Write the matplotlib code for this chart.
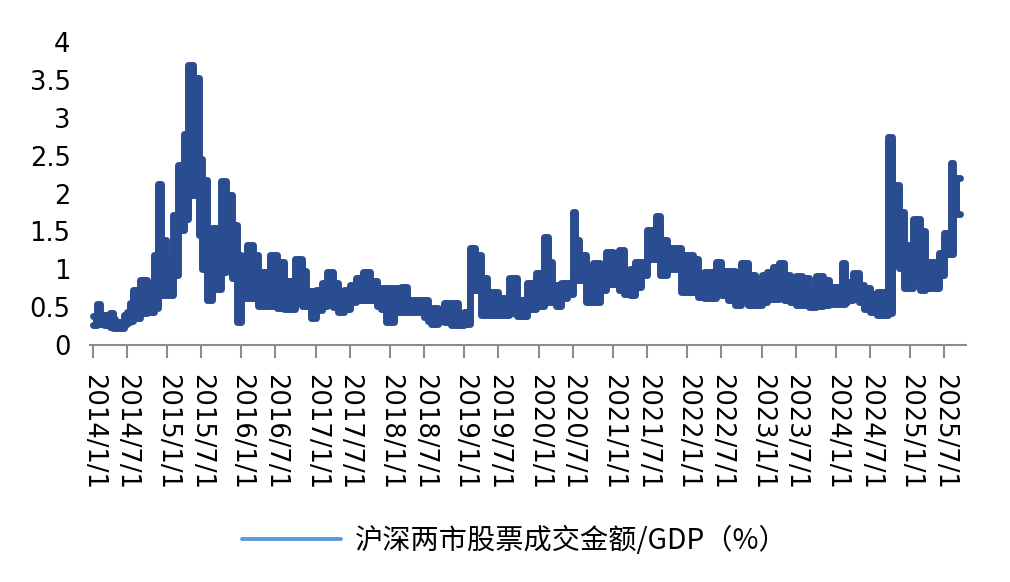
import matplotlib
matplotlib.use("Agg")
import matplotlib.pyplot as plt
import matplotlib.dates as mdates
from matplotlib.lines import Line2D
from matplotlib.font_manager import FontProperties
import numpy as np

plt.rcParams["font.family"] = ["DejaVu Sans"]

# 沪深两市股票成交金额/GDP（%）: 每段起始日期及该段内的低点/高点
dates = [
    "2014-01-01", "2014-01-25", "2014-02-08", "2014-03-01", "2014-04-01", "2014-04-20",
    "2014-05-01", "2014-06-01", "2014-06-20", "2014-07-01", "2014-07-15", "2014-08-01",
    "2014-09-01", "2014-10-01", "2014-11-01", "2014-11-20", "2014-12-05", "2014-12-25",
    "2015-02-01", "2015-03-01", "2015-04-01", "2015-04-22", "2015-05-20", "2015-06-20",
    "2015-07-08", "2015-07-28", "2015-08-22", "2015-10-01", "2015-10-22", "2015-11-18",
    "2015-12-10", "2016-01-01", "2016-02-01", "2016-03-01", "2016-04-01", "2016-06-01",
    "2016-07-10", "2016-08-10", "2016-10-01", "2016-11-01", "2016-11-20", "2016-12-10",
    "2017-01-01", "2017-02-01", "2017-03-01", "2017-04-01", "2017-05-01", "2017-06-01",
    "2017-07-01", "2017-08-01", "2017-09-01", "2017-10-01", "2017-11-01", "2017-11-20",
    "2017-12-15", "2018-01-20", "2018-03-01", "2018-04-01", "2018-07-01", "2018-07-20",
    "2018-08-01", "2018-09-01", "2018-10-01", "2018-11-01", "2018-12-01", "2019-01-01",
    "2019-02-01", "2019-03-01", "2019-04-01", "2019-05-01", "2019-07-01", "2019-08-20",
    "2019-09-25", "2019-11-10", "2019-12-20", "2020-02-01", "2020-02-20", "2020-03-10",
    "2020-04-01", "2020-05-01", "2020-06-01", "2020-07-01", "2020-07-10", "2020-08-01",
    "2020-09-01", "2020-10-01", "2020-11-01", "2020-12-01", "2021-01-01", "2021-02-01",
    "2021-03-01", "2021-04-01", "2021-05-01", "2021-06-01", "2021-07-01", "2021-08-10",
    "2021-08-28", "2021-10-01", "2021-12-01", "2022-02-01", "2022-03-01", "2022-04-01",
    "2022-06-01", "2022-07-01", "2022-08-01", "2022-09-01", "2022-10-01", "2022-11-01",
    "2022-12-01", "2023-01-01", "2023-02-01", "2023-03-01", "2023-04-01", "2023-05-01",
    "2023-06-01", "2023-07-01", "2023-08-01", "2023-09-01", "2023-10-01", "2023-11-01",
    "2023-12-01", "2024-02-01", "2024-02-20", "2024-03-01", "2024-04-01", "2024-05-01",
    "2024-06-01", "2024-07-01", "2024-08-01", "2024-09-22", "2024-10-10", "2024-11-10",
    "2024-12-01", "2025-01-15", "2025-02-20", "2025-03-20", "2025-06-01", "2025-07-01",
    "2025-08-01", "2025-08-12",
]
low = [
    0.26, 0.29, 0.28, 0.27, 0.24, 0.22,
    0.22, 0.23, 0.28, 0.30, 0.32, 0.35,
    0.42, 0.44, 0.49, 0.94, 0.66, 0.66,
    0.92, 1.52, 1.67, 1.98, 1.98, 1.45,
    1.01, 0.59, 0.74, 0.97, 1.14, 0.88,
    0.30, 0.62, 0.62, 0.62, 0.51, 0.51,
    0.49, 0.48, 0.57, 0.52, 0.52, 0.35,
    0.46, 0.52, 0.57, 0.50, 0.44, 0.47,
    0.57, 0.60, 0.59, 0.59, 0.51, 0.47,
    0.31, 0.44, 0.44, 0.44, 0.37, 0.32,
    0.28, 0.32, 0.30, 0.26, 0.26, 0.28,
    0.72, 0.72, 0.39, 0.39, 0.39, 0.42,
    0.38, 0.47, 0.52, 0.57, 0.57, 0.57,
    0.52, 0.62, 0.68, 0.86, 0.86, 0.86,
    0.57, 0.57, 0.72, 0.81, 0.81, 0.72,
    0.68, 0.66, 0.77, 0.92, 1.14, 1.14,
    0.92, 1.01, 0.70, 0.70, 0.64, 0.62,
    0.74, 0.66, 0.60, 0.53, 0.60, 0.53,
    0.53, 0.57, 0.61, 0.61, 0.62, 0.59,
    0.57, 0.53, 0.53, 0.50, 0.52, 0.53,
    0.54, 0.54, 0.57, 0.59, 0.62, 0.57,
    0.47, 0.44, 0.39, 0.42, 1.07, 1.02,
    0.75, 0.88, 0.73, 0.75, 0.92, 1.20,
    1.20, 1.73,
]
high = [
    0.38, 0.54, 0.40, 0.40, 0.42, 0.34,
    0.31, 0.31, 0.40, 0.44, 0.55, 0.73,
    0.86, 0.80, 1.19, 2.13, 1.39, 1.14,
    1.72, 2.38, 2.78, 3.70, 3.52, 2.46,
    2.18, 1.43, 1.54, 2.16, 1.98, 1.59,
    1.19, 0.98, 1.32, 1.19, 0.97, 1.19,
    1.10, 0.84, 1.13, 0.98, 0.71, 0.71,
    0.73, 0.82, 0.97, 0.82, 0.68, 0.73,
    0.79, 0.88, 0.97, 0.84, 0.70, 0.75,
    0.75, 0.75, 0.77, 0.60, 0.60, 0.49,
    0.49, 0.44, 0.55, 0.55, 0.40, 0.43,
    1.28, 1.19, 0.88, 0.70, 0.62, 0.88,
    0.60, 0.82, 0.95, 1.43, 1.10, 0.79,
    0.79, 0.82, 0.82, 1.76, 1.39, 1.19,
    1.03, 1.08, 0.88, 1.23, 1.03, 1.25,
    0.86, 1.01, 1.10, 1.10, 1.52, 1.70,
    1.39, 1.28, 1.19, 1.14, 0.90, 0.97,
    1.10, 0.98, 0.98, 0.80, 1.08, 0.93,
    0.75, 0.93, 0.97, 1.03, 1.08, 0.93,
    0.88, 0.91, 0.88, 0.71, 0.91, 0.86,
    0.77, 1.08, 0.83, 0.83, 0.95, 0.79,
    0.75, 0.68, 0.70, 2.75, 2.11, 1.76,
    1.32, 1.67, 1.50, 1.10, 1.21, 1.48,
    2.40, 2.20,
]
end_date = "2025-09-10"

# 横轴按交易日排列：上半年约112个交易日，下半年约134个
tick_dates = [f"{y}-{m:02d}-01" for y in range(2014, 2026) for m in (1, 7)]
tick_labels = [f"{y}/{m}/1" for y in range(2014, 2026) for m in (1, 7)]
half_year_days = [112, 134] * 12

anchor_nums = mdates.datestr2num(tick_dates + ["2026-01-01"])
anchor_pos = np.concatenate([[0], np.cumsum(half_year_days)])


def to_pos(ds):
    return np.interp(mdates.datestr2num(ds), anchor_nums, anchor_pos)


x = to_pos(dates + [end_date])
lo = np.array(low + [low[-1]])
hi = np.array(high + [high[-1]])

fig = plt.figure(figsize=(10.1, 5.82), dpi=100)
ax = fig.add_axes([0.0891, 0.4072, 0.8673, 0.5206])

line_color = "#2A4C90"
ax.fill_between(x, lo, hi, step="post", color=line_color, lw=0)
for edge in (hi, lo):
    ax.plot(x, edge, drawstyle="steps-post", color=line_color, lw=5,
            solid_joinstyle="round", solid_capstyle="round")

ax.set_xlim(-9, 2890)
ax.set_ylim(0, 4)

tick_font = FontProperties(family="DejaVu Sans", size=18.5)
ax.set_xticks(to_pos(tick_dates))
ax.set_xticklabels(tick_labels, rotation=-90, fontproperties=tick_font)
yt = np.arange(0, 4.01, 0.5)
ax.set_yticks(yt)
ax.set_yticklabels([f"{v:g}" for v in yt], fontproperties=tick_font)

for s in ("top", "right", "left"):
    ax.spines[s].set_visible(False)
ax.spines["bottom"].set_color("#8C8C8C")
ax.spines["bottom"].set_linewidth(1.5)
ax.tick_params(axis="x", direction="out", length=9, width=1.5, color="#8C8C8C", pad=12)
ax.tick_params(axis="y", length=0, pad=14)

handle = Line2D([], [], color="#5B9BD5", lw=2.8, solid_capstyle="round")
fig.legend([handle], ["沪深两市股票成交金额/GDP（%）"], loc="center",
           bbox_to_anchor=(0.51, 0.07), frameon=False, handlelength=3.5,
           handletextpad=0.5,
           prop={"family": ["Noto Sans CJK SC", "DejaVu Sans"], "size": 20.3})

fig.savefig("out.png", dpi=100)
